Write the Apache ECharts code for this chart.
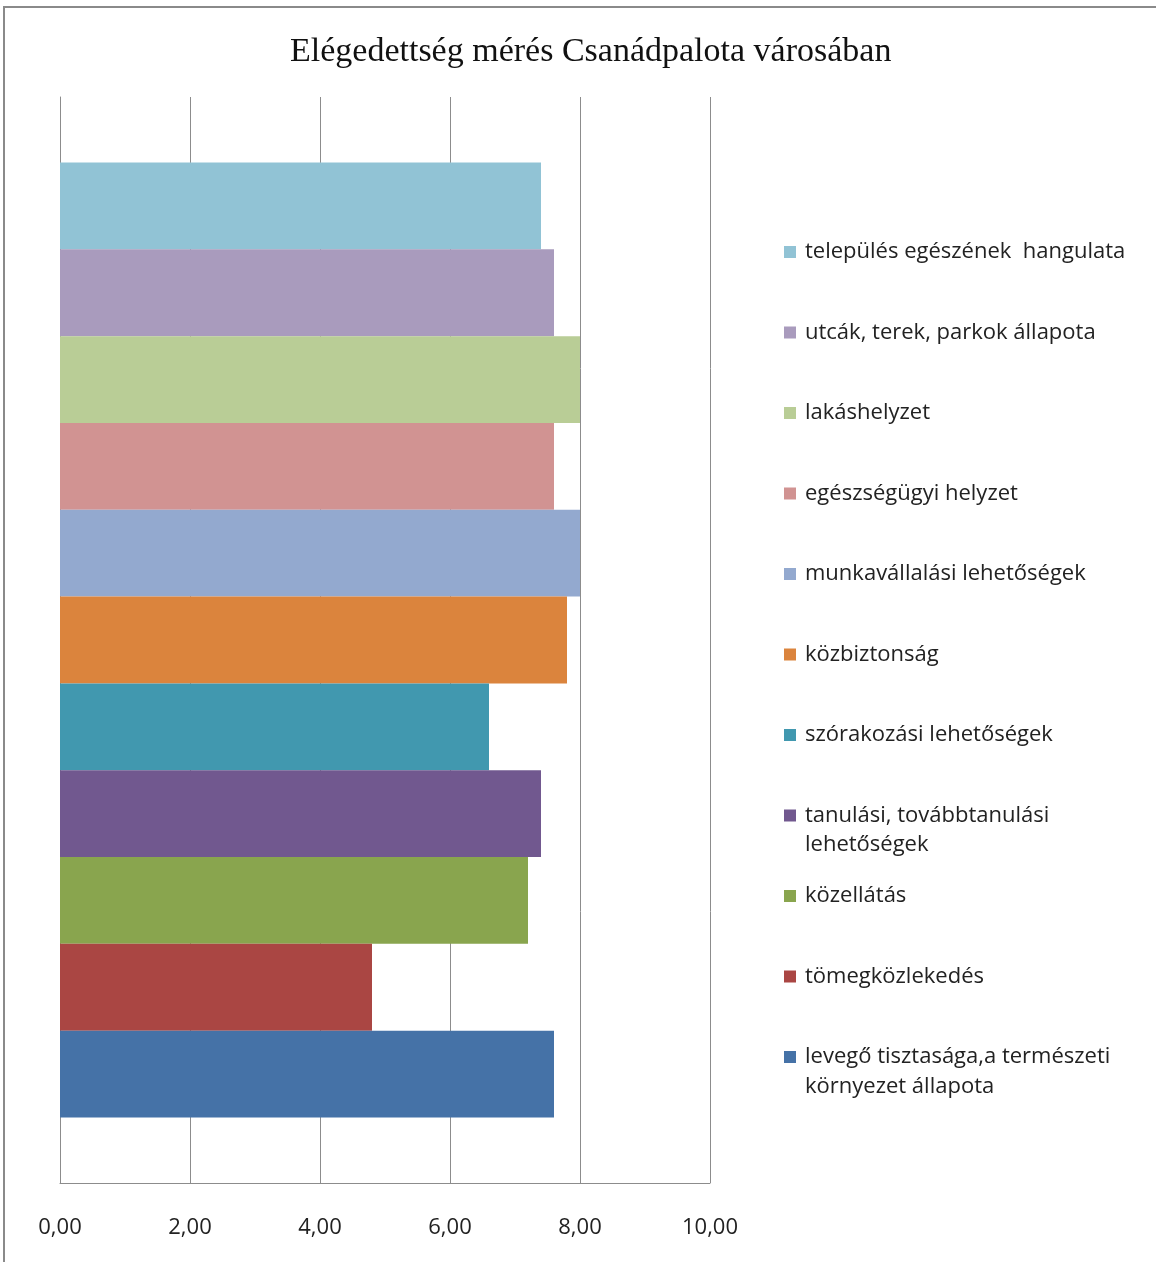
<!DOCTYPE html>
<html>
<head>
<meta charset="utf-8">
<script src="https://cdn.jsdelivr.net/npm/echarts@6/dist/echarts.min.js"></script>
<style>
  html, body { margin: 0; padding: 0; background: #fff; }
  #chart { width: 1156px; height: 1262px; }
</style>
</head>
<body>
<div id="chart"></div>
<script>
// Survey items, listed top to bottom as they appear in the legend and the bars
const items = [
  'település egészének hangulata',
  'utcák, terek, parkok állapota',
  'lakáshelyzet',
  'egészségügyi helyzet',
  'munkavállalási lehetőségek',
  'közbiztonság',
  'szórakozási lehetőségek',
  'tanulási, továbbtanulási lehetőségek',
  'közellátás',
  'tömegközlekedés',
  'levegő tisztasága,a természeti környezet állapota'
];
// Average satisfaction score per item (same order)
const scores = [7.4, 7.6, 8.0, 7.6, 8.0, 7.8, 6.6, 7.4, 7.2, 4.8, 7.6];
const colors = ['#91C3D5', '#A99BBD', '#B9CD96', '#D19392', '#93A9CF', '#DB843D',
                '#4198AF', '#71588F', '#89A54E', '#AA4643', '#4572A7'];
// Legend lines: long names wrap onto a second line
const legendLines = [
  ['település egészének  hangulata'],
  ['utcák, terek, parkok állapota'],
  ['lakáshelyzet'],
  ['egészségügyi helyzet'],
  ['munkavállalási lehetőségek'],
  ['közbiztonság'],
  ['szórakozási lehetőségek'],
  ['tanulási, továbbtanulási', 'lehetőségek'],
  ['közellátás'],
  ['tömegközlekedés'],
  ['levegő tisztasága,a természeti', 'környezet állapota']
];
const xTicks = { min: 0, max: 10, step: 2 };

const font = '"Open Sans", Lato, sans-serif';
const legendFontSize = 22;
const chart = echarts.init(document.getElementById('chart'));

// One category; each item is its own series, laid side by side (first on top)
const series = items.map((name, i) => ({
  name: name,
  type: 'bar',
  data: [scores[i]],
  barGap: '0%',
  barCategoryGap: '12.06%',
  itemStyle: { color: colors[i] },
  emphasis: { disabled: true }
}));

const legendTop = 233;
const legendStep = 80.5;
const legendItemH = 28;
const secondLines = [];
legendLines.forEach((lines, i) => {
  if (lines.length > 1) {
    secondLines.push({
      type: 'text',
      x: 805,
      y: legendTop + i * legendStep + legendItemH / 2 + 34.5,
      style: { text: lines[1], font: legendFontSize + 'px ' + font, fill: '#222', verticalAlign: 'middle' }
    });
  }
});

chart.setOption({
  animation: false,
  title: {
    text: 'Elégedettség mérés Csanádpalota városában',
    left: 285,
    top: 30,
    textStyle: { fontFamily: '"Liberation Serif", "DejaVu Serif", serif', fontSize: 34, fontWeight: 'normal', color: '#111' }
  },
  grid: { left: 60, right: 446, top: 97, bottom: 79, containLabel: false },
  xAxis: {
    type: 'value',
    min: xTicks.min,
    max: xTicks.max,
    interval: xTicks.step,
    axisLine: { show: true, lineStyle: { color: '#8c8c8c', width: 1 } },
    axisTick: { show: false },
    splitLine: { show: true, lineStyle: { color: '#8c8c8c', width: 1 } },
    axisLabel: {
      margin: 34,
      color: '#222',
      fontFamily: font,
      fontSize: 22,
      formatter: v => v.toFixed(2).replace('.', ',')
    }
  },
  yAxis: {
    type: 'category',
    data: [''],
    axisLine: { show: true, lineStyle: { color: '#8c8c8c', width: 1 } },
    axisTick: { show: false },
    axisLabel: { show: false }
  },
  legend: {
    orient: 'vertical',
    left: 779,
    top: legendTop,
    icon: 'rect',
    itemWidth: 12,
    itemHeight: 12,
    itemGap: legendStep - legendItemH,
    selectedMode: false,
    data: items,
    formatter: name => legendLines[items.indexOf(name)][0],
    textStyle: { fontFamily: font, fontSize: legendFontSize, color: '#222', lineHeight: legendItemH, padding: [0, 0, 0, 4] }
  },
  graphic: [
    {
      type: 'rect',
      shape: { x: 4, y: 7, width: 1300, height: 1400 },
      style: { fill: 'none', stroke: '#8a8a8a', lineWidth: 2 },
      silent: true
    }
  ].concat(secondLines),
  series: series
});
</script>
</body>
</html>
